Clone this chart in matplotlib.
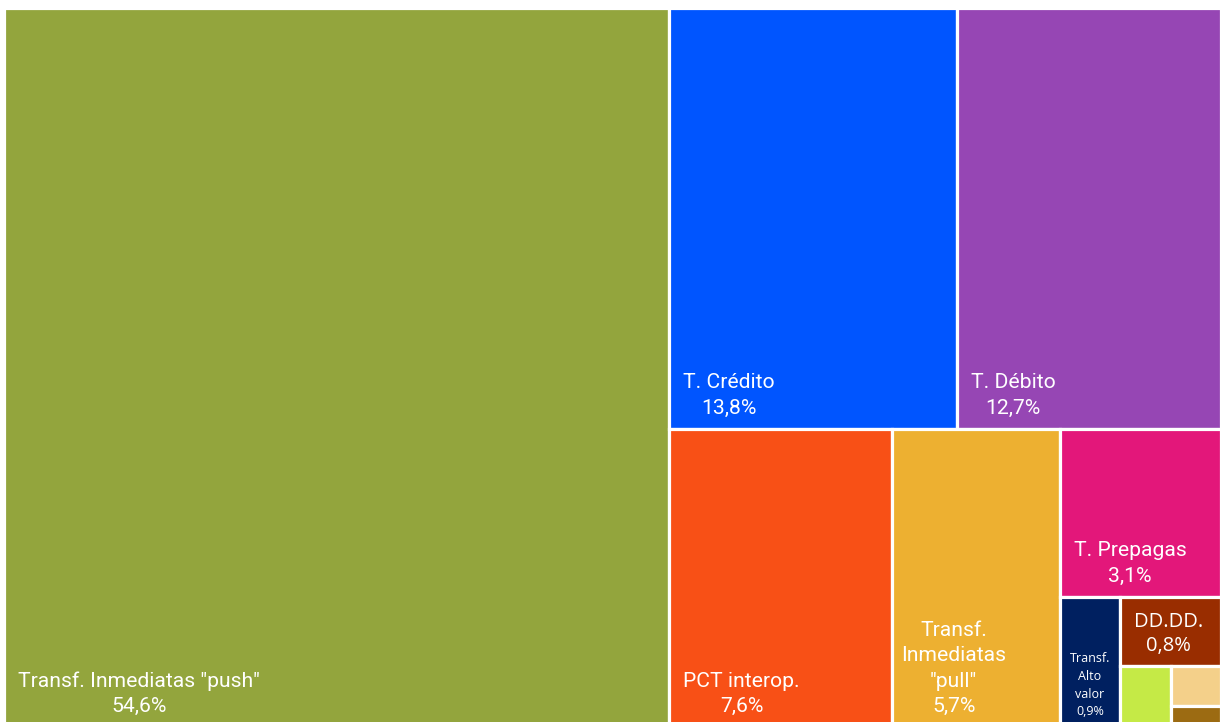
import matplotlib
matplotlib.use("Agg")
import matplotlib.pyplot as plt
from matplotlib.patches import Rectangle

W, H = 1222, 722

# participación por instrumento (%)
nombres = ["push", "credito", "debito", "pct", "pull", "prepagas",
           "alto_valor", "ddd", "otro1", "otro2", "otro3"]
valores = [54.6, 13.8, 12.7, 7.6, 5.7, 3.1, 0.9, 0.8, 0.35, 0.23, 0.12]
etiquetas = ['Transf. Inmediatas "push"\n54,6%', "T. Crédito\n13,8%", "T. Débito\n12,7%",
             "PCT interop.\n7,6%", 'Transf.\nInmediatas\n"pull"\n5,7%', "T. Prepagas\n3,1%",
             "Transf.\nAlto\nvalor\n0,9%", "DD.DD.\n0,8%", "", "", ""]
colores = ["#93A53D", "#0055FF", "#9646B4", "#F85016", "#EDB031", "#E3177A",
           "#002060", "#992D00", "#C5EA46", "#F4D08A", "#9C6B12"]

val = dict(zip(nombres, valores))

# estructura de cortes: (dirección, [hijos]); hoja = nombre
plan = ("x", ["push",
              ("y", [("x", ["credito", "debito"]),
                     ("x", ["pct", "pull",
                            ("y", ["prepagas",
                                   ("x", ["alto_valor",
                                          ("y", ["ddd",
                                                 ("x", ["otro1",
                                                        ("y", ["otro2", "otro3"])])])])])])])])


def total(nodo):
    if isinstance(nodo, str):
        return val[nodo]
    return sum(total(h) for h in nodo[1])


def repartir(nodo, x, y, w, h, out):
    if isinstance(nodo, str):
        out[nodo] = (x, y, w, h)
        return
    d, hijos = nodo
    t = total(nodo)
    for hj in hijos:
        f = total(hj) / t
        if d == "x":
            repartir(hj, x, y, w * f, h, out)
            x += w * f
        else:
            repartir(hj, x, y, w, h * f, out)
            y += h * f


rects = {}
repartir(plan, 4, 8, 1217, 719, rects)

fig = plt.figure(figsize=(W / 100, H / 100), dpi=100)
ax = fig.add_axes([0, 0, 1, 1])
ax.set_xlim(0, W)
ax.set_ylim(H, 0)
ax.axis("off")

for n, et, c in zip(nombres, etiquetas, colores):
    x, y, w, h = rects[n]
    ax.add_patch(Rectangle((x, y), w, h, facecolor=c, edgecolor="white", lw=2.3))
    if not et:
        continue
    abajo = y + h
    if n == "alto_valor":
        ax.text(x + w / 2, min(abajo, H) - 4, et, ha="center", va="bottom",
                multialignment="center", color="white", fontsize=9,
                family=["Open Sans", "DejaVu Sans"], linespacing=1.45)
    elif n == "ddd":
        ax.text(x + 14, abajo - 10, et, ha="left", va="bottom",
                multialignment="center", color="white", fontsize=14.5,
                family=["Open Sans", "DejaVu Sans"], linespacing=1.3)
    else:
        pad = 9 if n == "pull" else 14
        ax.text(x + pad, abajo - 11, et, ha="left", va="bottom",
                multialignment="center", color="white", fontsize=15.2,
                family=["Roboto", "DejaVu Sans"], linespacing=1.42)

fig.savefig("out.png", dpi=100, facecolor="white")
plt.close(fig)
